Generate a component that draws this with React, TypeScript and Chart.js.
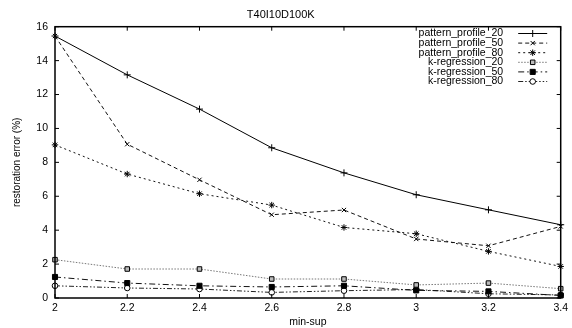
import React, { useEffect, useRef } from "react";
import { Chart, registerables } from "chart.js";
import { drawPoint } from "chart.js/helpers";

Chart.register(...registerables);

const categories = ["2", "2.2", "2.4", "2.6", "2.8", "3", "3.2", "3.4"];
const yTicks = [0, 2, 4, 6, 8, 10, 12, 14, 16];

const seriesNames = [
  "pattern_profile_20",
  "pattern_profile_50",
  "pattern_profile_80",
  "k-regression_20",
  "k-regression_50",
  "k-regression_80",
];

const patternProfile20 = [15.45, 13.16, 11.14, 8.86, 7.38, 6.09, 5.2, 4.32];
const patternProfile50 = [15.45, 9.07, 6.97, 4.91, 5.19, 3.48, 3.08, 4.22];
const patternProfile80 = [9.03, 7.31, 6.15, 5.48, 4.16, 3.79, 2.75, 1.86];
const kRegression20 = [2.26, 1.71, 1.71, 1.12, 1.12, 0.77, 0.88, 0.55];
const kRegression50 = [1.24, 0.88, 0.72, 0.65, 0.72, 0.45, 0.39, 0.15];
const kRegression80 = [0.72, 0.59, 0.53, 0.33, 0.43, 0.5, 0.25, 0.18];

const FONT = "'Liberation Sans', Arial, Helvetica, sans-serif";

const styles = [
  { color: "#000", dash: [], point: "cross", fill: "#000", radius: 3.5 },
  { color: "#111", dash: [4, 3], point: "crossRot", fill: "#000", radius: 3 },
  { color: "#111", dash: [2, 3], point: "star", fill: "#000", radius: 3.2 },
  { color: "#777", dash: [1.5, 1.5], point: "rect", fill: "#bbb", radius: 3.2 },
  { color: "#111", dash: [6, 3, 1.5, 3], point: "rect", fill: "#000", radius: 3.6 },
  { color: "#222", dash: [5, 2, 1.5, 2, 1.5, 2], point: "circle", fill: "#fff", radius: 2.8 },
];

const boxPlugin = {
  id: "gnuplotBox",
  afterDraw(chart: any) {
    const { ctx, chartArea } = chart;
    const { left, right, top, bottom } = chartArea;
    const xs = chart.scales.x;
    const ys = chart.scales.y;
    ctx.save();
    ctx.strokeStyle = "#000";
    ctx.lineWidth = 1.5;
    ctx.setLineDash([]);
    ctx.strokeRect(left, top, right - left, bottom - top);
    ctx.lineWidth = 1;
    const tl = 4;
    ctx.beginPath();
    xs.ticks.forEach((_t: any, i: number) => {
      const x = xs.getPixelForTick(i);
      ctx.moveTo(x, bottom);
      ctx.lineTo(x, bottom - tl);
      ctx.moveTo(x, top);
      ctx.lineTo(x, top + tl);
    });
    ys.ticks.forEach((_t: any, i: number) => {
      const y = ys.getPixelForTick(i);
      ctx.moveTo(left, y);
      ctx.lineTo(left + tl, y);
      ctx.moveTo(right, y);
      ctx.lineTo(right - tl, y);
    });
    ctx.stroke();

    // legend (gnuplot style, inside top-right)
    const textRight = right - 57.5;
    const lineStart = right - 42.5;
    const lineEnd = right - 13.5;
    const rowH = 9.6;
    ctx.font = `10.5px ${FONT}`;
    ctx.textAlign = "right";
    ctx.textBaseline = "middle";
    chart.data.datasets.forEach((ds: any, i: number) => {
      const y = top + 6.8 + i * rowH;
      const st = styles[i];
      ctx.fillStyle = "#000";
      ctx.fillText(ds.label, textRight, y);
      ctx.strokeStyle = st.color;
      ctx.lineWidth = 1;
      ctx.setLineDash(st.dash);
      ctx.beginPath();
      ctx.moveTo(lineStart, y);
      ctx.lineTo(lineEnd, y);
      ctx.stroke();
      ctx.setLineDash([]);
      ctx.strokeStyle = "#000";
      ctx.fillStyle = st.fill;
      drawPoint(ctx, { pointStyle: st.point, rotation: 0, radius: st.radius, borderWidth: 1 }, (lineStart + lineEnd) / 2, y);
    });
    ctx.restore();
  },
};

export default function App() {
  const ref = useRef<HTMLCanvasElement>(null);
  useEffect(() => {
    const seriesData = [
      patternProfile20,
      patternProfile50,
      patternProfile80,
      kRegression20,
      kRegression50,
      kRegression80,
    ];
    const chart = new Chart(ref.current as HTMLCanvasElement, {
      type: "line",
      data: {
        labels: categories,
        datasets: seriesData.map((d, i) => ({
          label: seriesNames[i],
          data: d,
          borderColor: styles[i].color,
          borderWidth: 1,
          borderDash: styles[i].dash,
          pointStyle: styles[i].point as any,
          pointRadius: styles[i].radius,
          pointBorderColor: "#000",
          pointBackgroundColor: styles[i].fill,
          pointBorderWidth: 1,
          tension: 0,
          fill: false,
          clip: false as any,
        })),
      },
      options: {
        animation: false,
        responsive: false,
        devicePixelRatio: 1,
        layout: { padding: { left: 0, right: 10.5, top: 0, bottom: 0 } },
        plugins: {
          legend: { display: false },
          tooltip: { enabled: false },
          title: {
            display: true,
            text: "T40I10D100K",
            color: "#000",
            font: { family: FONT, size: 11, weight: "normal" },
            padding: { top: 8, bottom: 5.5 },
          },
        },
        scales: {
          x: {
            type: "category",
            offset: false,
            grid: { display: false, drawTicks: false },
            border: { display: false },
            ticks: {
              color: "#000",
              font: { family: FONT, size: 10.5 },
              padding: 4,
              maxRotation: 0,
              autoSkip: false,
            },
            title: {
              display: true,
              text: "min-sup",
              color: "#000",
              font: { family: FONT, size: 10.5 },
              padding: { top: 0, bottom: 0 },
            },
            afterFit: (s: any) => {
              s.height = 30;
            },
          },
          y: {
            type: "linear",
            min: 0,
            max: 16,
            afterBuildTicks: (s: any) => {
              s.ticks = yTicks.map((v) => ({ value: v }));
            },
            grid: { display: false, drawTicks: false },
            border: { display: false },
            ticks: {
              color: "#000",
              font: { family: FONT, size: 10.5 },
              padding: 7,
            },
            title: {
              display: true,
              text: "restoration error (%)",
              color: "#000",
              font: { family: FONT, size: 10 },
              padding: { top: 11, bottom: 0 },
            },
            afterFit: (s: any) => {
              s.width = 55;
            },
          },
        },
      },
      plugins: [boxPlugin],
    });
    return () => chart.destroy();
  }, []);
  return (
    <div style={{ position: "absolute", left: 0, top: 0, width: 572, height: 328, background: "#fff" }}>
      <canvas ref={ref} width={572} height={328} style={{ display: "block" }} />
    </div>
  );
}
